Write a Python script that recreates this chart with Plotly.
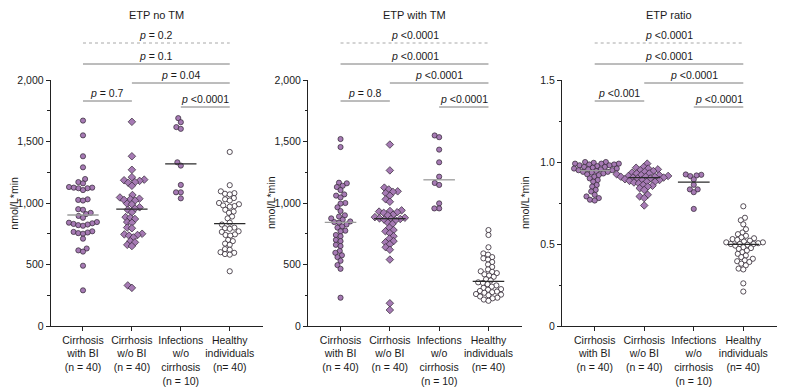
import plotly.graph_objects as go
import numpy as np

# ---------------- data ----------------
categories = ["Cirrhosis<br>with BI<br>(n = 40)", "Cirrhosis<br>w/o BI<br>(n = 40)",
              "Infections<br>w/o<br>cirrhosis<br>(n = 10)", "Healthy<br>individuals<br>(n= 40)"]
panel_titles = ["ETP no TM", "ETP with TM", "ETP ratio"]
y_label = "nmol/L*min"

etp_no_tm_bi = [1670, 1550, 1380, 1290, 1195, 1170, 1160, 1130, 1125, 1125, 1120, 1120, 1105, 1030, 1025,
                1020, 950, 945, 920, 910, 895, 880, 845, 840, 835, 830, 825, 820, 815, 770,
                765, 760, 755, 750, 710, 630, 615, 605, 490, 290]
etp_no_tm_nobi = [1660, 1380, 1270, 1210, 1190, 1185, 1180, 1170, 1165, 1140, 1065, 1045, 1035, 1030, 1025,
                  1020, 995, 990, 965, 955, 945, 925, 885, 880, 870, 845, 840, 800, 795, 750,
                  745, 740, 735, 720, 690, 680, 660, 650, 330, 310]
etp_no_tm_inf = [1690, 1657, 1617, 1603, 1331, 1304, 1147, 1087, 1087, 1038]
etp_no_tm_healthy = [1415, 1145, 1095, 1080, 1075, 1070, 1040, 1030, 1020, 1000, 990, 980, 975, 970, 945,
                     930, 920, 890, 875, 840, 825, 800, 795, 790, 770, 765, 745, 740, 735, 700,
                     690, 670, 660, 625, 620, 600, 595, 585, 580, 445]

etp_tm_bi = [1520, 1455, 1165, 1160, 1140, 1130, 1105, 1070, 1060, 1045, 1000, 995, 965, 935, 900,
             890, 875, 865, 850, 845, 840, 825, 810, 800, 775, 770, 740, 730, 700, 690,
             660, 650, 610, 595, 575, 560, 530, 495, 465, 230]
etp_tm_nobi = [1475, 1265, 1125, 1110, 1095, 1090, 1080, 1060, 1030, 1010, 940, 935, 930, 925, 920,
               905, 900, 885, 880, 875, 870, 870, 865, 860, 840, 830, 800, 780, 770, 755,
               730, 710, 690, 680, 665, 640, 620, 540, 185, 130]
etp_tm_inf = [1549, 1535, 1434, 1331, 1214, 1163, 1147, 997, 956, 956]
etp_tm_healthy = [780, 740, 640, 590, 580, 560, 550, 540, 520, 500, 480, 460, 445, 440, 430,
                  420, 410, 400, 380, 370, 355, 350, 340, 330, 320, 310, 300, 295, 285, 280,
                  275, 270, 260, 255, 250, 240, 230, 225, 215, 205]

ratio_bi = [1.00, 1.00, 0.995, 0.99, 0.99, 0.99, 0.985, 0.985, 0.98, 0.98, 0.975, 0.97, 0.97, 0.965, 0.96,
            0.96, 0.955, 0.955, 0.95, 0.95, 0.945, 0.94, 0.94, 0.935, 0.93, 0.925, 0.92, 0.91, 0.90, 0.89,
            0.88, 0.86, 0.85, 0.83, 0.82, 0.80, 0.79, 0.78, 0.77, 0.765]
ratio_nobi = [0.99, 0.97, 0.965, 0.96, 0.955, 0.95, 0.945, 0.94, 0.935, 0.93, 0.93, 0.925, 0.92, 0.92, 0.915,
              0.915, 0.91, 0.91, 0.91, 0.905, 0.905, 0.90, 0.90, 0.895, 0.89, 0.89, 0.885, 0.88, 0.88, 0.875,
              0.87, 0.86, 0.855, 0.85, 0.84, 0.83, 0.80, 0.79, 0.78, 0.735]
ratio_inf = [0.924, 0.922, 0.918, 0.914, 0.894, 0.861, 0.833, 0.833, 0.816, 0.714]
ratio_healthy = [0.73, 0.66, 0.645, 0.62, 0.59, 0.57, 0.56, 0.55, 0.54, 0.535, 0.53, 0.525, 0.52, 0.515, 0.51,
                 0.51, 0.505, 0.50, 0.50, 0.50, 0.495, 0.49, 0.48, 0.475, 0.47, 0.46, 0.45, 0.44, 0.43, 0.42,
                 0.41, 0.40, 0.395, 0.39, 0.38, 0.37, 0.35, 0.345, 0.26, 0.21]

p_no_tm = ["p = 0.2", "p = 0.1", "p = 0.04", "p = 0.7", "p <0.0001"]
p_tm = ["p <0.0001", "p <0.0001", "p <0.0001", "p = 0.8", "p <0.0001"]
p_ratio = ["p <0.0001", "p <0.0001", "p <0.0001", "p <0.001", "p <0.0001"]
comparison_pairs = [(0, 3), (0, 3), (1, 3), (0, 1), (2, 3)]

GRAY_MED, DARK_MED = "#9c9c9c", "#2a2a2a"
panels = [
    dict(groups=[etp_no_tm_bi, etp_no_tm_nobi, etp_no_tm_inf, etp_no_tm_healthy], ymax=2000,
         tickvals=[0, 500, 1000, 1500, 2000], ticktext=["0", "500", "1,000", "1,500", "2,000"],
         minor=[250, 750, 1250, 1750], pvals=p_no_tm,
         medcolors=[GRAY_MED, DARK_MED, DARK_MED, DARK_MED]),
    dict(groups=[etp_tm_bi, etp_tm_nobi, etp_tm_inf, etp_tm_healthy], ymax=2000,
         tickvals=[0, 500, 1000, 1500, 2000], ticktext=["0", "500", "1,000", "1,500", "2,000"],
         minor=[250, 750, 1250, 1750], pvals=p_tm,
         medcolors=[GRAY_MED, DARK_MED, GRAY_MED, DARK_MED]),
    dict(groups=[ratio_bi, ratio_nobi, ratio_inf, ratio_healthy], ymax=1.5,
         tickvals=[0, 0.5, 1.0, 1.5], ticktext=["0", "0.5", "1.0", "1.5"],
         minor=[0.25, 0.75, 1.25], pvals=p_ratio,
         medcolors=[GRAY_MED, DARK_MED, DARK_MED, DARK_MED]),
]

# ---------------- layout constants ----------------
W, H = 787, 389
MT, MB = 80, 63
PLOT_H = H - MT - MB
domains_px = [(50.7, 263), (308, 522), (562, 777)]
XR = [-0.66, 3.68]
PURPLE = "#A67AB4"
EDGE = "#2e2430"
TXT = "#1a1a1a"
FONT = "Liberation Sans, Arial, sans-serif"
D = 4.8  # swarm spacing (px)


def swarm(vals, ypu, d):
    order = sorted(range(len(vals)), key=lambda i: vals[i])
    placed = []
    xs = [0.0] * len(vals)
    for i in order:
        y = vals[i] * ypu
        cands = [0.0]
        for px, py in placed:
            dy = y - py
            if abs(dy) < d:
                dx = (d * d - dy * dy) ** 0.5
                cands += [px + dx, px - dx]
        cands.sort(key=lambda c: (abs(c), c))
        for c in cands:
            if all((c - px) ** 2 + (y - py) ** 2 >= d * d - 1e-6 for px, py in placed):
                xs[i] = c
                break
        placed.append((xs[i], y))
    return xs


def py2paper(py):
    return (H - MB - py) / PLOT_H


fig = go.Figure()
shapes = []
annotations = []

for k, pan in enumerate(panels):
    ax = "" if k == 0 else str(k + 1)
    xref, yref = "x" + ax, "y" + ax
    d0, d1 = domains_px[k]
    xpu = (d1 - d0) / (XR[1] - XR[0])
    ypu = PLOT_H / pan["ymax"]
    for g, vals in enumerate(pan["groups"]):
        offs = swarm(vals, ypu, D)
        xs = [g + o / xpu for o in offs]
        if g == 3:
            marker = dict(symbol="circle", size=5.2, color="white", line=dict(color=EDGE, width=0.8))
        elif g == 1:
            marker = dict(symbol="diamond", size=5.8, color=PURPLE, line=dict(color=EDGE, width=0.7))
        else:
            marker = dict(symbol="circle", size=5.2, color=PURPLE, line=dict(color=EDGE, width=0.7))
        fig.add_trace(go.Scatter(x=xs, y=vals, mode="markers", marker=marker, xaxis=xref, yaxis=yref,
                                 showlegend=False, cliponaxis=False, hoverinfo="y"))
        med = float(np.median(vals))
        fig.add_trace(go.Scatter(x=[g - 0.32, g + 0.32], y=[med, med], mode="lines",
                                 line=dict(color=pan["medcolors"][g], width=1.3), xaxis=xref, yaxis=yref,
                                 showlegend=False, hoverinfo="skip"))

    xa = dict(domain=[d0 / W, d1 / W], range=XR, showline=True, linecolor="#222", linewidth=1,
              ticks="outside", ticklen=4, tickcolor="#222", tickvals=[0, 1, 2, 3], ticktext=categories,
              tickangle=0, automargin=False,
              showgrid=False, zeroline=False, tickfont=dict(family=FONT, size=10.5, color=TXT),
              anchor=yref, fixedrange=True)
    ya = dict(domain=[0, 1], range=[0, pan["ymax"]], showline=True, linecolor="#222", linewidth=1,
              ticks="outside", ticklen=4, tickcolor="#222", tickvals=pan["tickvals"], ticktext=pan["ticktext"],
              minor=dict(tickvals=pan["minor"], ticks="outside", ticklen=2.5, tickcolor="#222"),
              automargin=False,
              showgrid=False, zeroline=False, tickfont=dict(family=FONT, size=10.5, color=TXT),
              anchor=xref, fixedrange=True)
    fig.update_layout(**{"xaxis" + ax: xa, "yaxis" + ax: ya})

    # title
    annotations.append(dict(x=1.5, y=py2paper(15), xref=xref, yref="paper", text=panel_titles[k],
                            yanchor="middle", xanchor="center",
                            showarrow=False, font=dict(family=FONT, size=11, color=TXT)))
    # y label
    annotations.append(dict(x=(d0 - 37) / W, y=0.5, xref="paper", yref="paper", text=y_label, textangle=-90,
                            xanchor="center", yanchor="middle",
                            showarrow=False, font=dict(family=FONT, size=10.5, color=TXT)))
    # brackets
    line_py = [43, 64, 83, 101, 107]
    for j, ((a, b), lab) in enumerate(zip(comparison_pairs, pan["pvals"])):
        yp = py2paper(line_py[j])
        shapes.append(dict(type="line", xref=xref, yref="paper", x0=a, x1=b, y0=yp, y1=yp,
                           line=dict(color="#a8a8a8" if j == 0 else "#7a7a7a", width=1,
                                     dash="3px,3px" if j == 0 else "solid")))
        txt = lab.replace("p ", "<i>p</i> ", 1)
        annotations.append(dict(x=(a + b) / 2, y=yp, xref=xref, yref="paper", text=txt, showarrow=False,
                                xanchor="center", yanchor="bottom", yshift=0,
                                font=dict(family=FONT, size=10.5, color=TXT)))

fig.update_layout(width=W, height=H, margin=dict(l=0, r=0, t=MT, b=MB, autoexpand=False),
                  plot_bgcolor="white", paper_bgcolor="white", shapes=shapes, annotations=annotations,
                  showlegend=False)

fig.write_html("out.html", config={"displayModeBar": False},
               post_script="document.body.style.margin='0px';document.body.style.overflow='hidden';")
